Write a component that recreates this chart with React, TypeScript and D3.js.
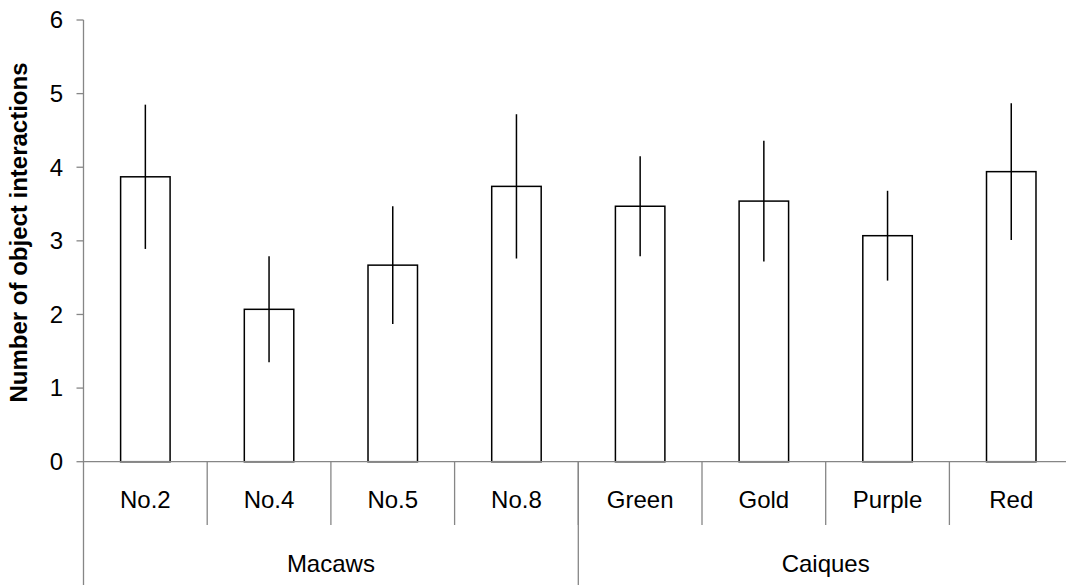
import React, { useEffect, useRef } from "react";
import * as d3 from "d3";

const categories = ["No.2", "No.4", "No.5", "No.8", "Green", "Gold", "Purple", "Red"];
const groups = ["Macaws", "Caiques"];
const groupSizes = [4, 4];
const meanValues = [3.87, 2.07, 2.67, 3.74, 3.47, 3.54, 3.07, 3.94];
const errorValues = [0.98, 0.72, 0.8, 0.98, 0.68, 0.82, 0.61, 0.93];
const yTicks = [0, 1, 2, 3, 4, 5, 6];
const yTitle = "Number of object interactions";

const W = 1066;
const H = 585;
const AXIS = "#868686";
const FONT = "'Liberation Sans', Arial, sans-serif";
const FS = 24;

export default function App() {
  const ref = useRef<SVGSVGElement>(null);
  useEffect(() => {
    const svg = d3.select(ref.current);
    svg.selectAll("*").remove();
    const x0 = 83.5;
    const x1 = 1073.1;
    const yScale = d3.scaleLinear().domain([0, 6]).range([461.7, 20]);
    const xScale = d3.scaleBand<string>().domain(categories).range([x0, x1]).paddingInner(0.6).paddingOuter(0.3);
    const slot = d3.scaleBand<string>().domain(categories).range([x0, x1]).padding(0);
    const y0 = yScale(0);

    // bars
    svg.append("g").selectAll("rect").data(categories).join("rect")
      .attr("x", (d) => xScale(d)!)
      .attr("y", (d, i) => yScale(meanValues[i]))
      .attr("width", xScale.bandwidth())
      .attr("height", (d, i) => y0 - yScale(meanValues[i]))
      .attr("fill", "#fff").attr("stroke", "#000").attr("stroke-width", 1.5);

    // error bars
    svg.append("g").selectAll("line").data(categories).join("line")
      .attr("x1", (d) => xScale(d)! + xScale.bandwidth() / 2)
      .attr("x2", (d) => xScale(d)! + xScale.bandwidth() / 2)
      .attr("y1", (d, i) => yScale(meanValues[i] + errorValues[i]))
      .attr("y2", (d, i) => yScale(meanValues[i] - errorValues[i]))
      .attr("stroke", "#000").attr("stroke-width", 1.5);

    // y axis
    const ga = svg.append("g");
    ga.append("line").attr("x1", x0).attr("x2", x0).attr("y1", yScale(6)).attr("y2", H)
      .attr("stroke", AXIS).attr("stroke-width", 1.3);
    yTicks.forEach((t) => {
      ga.append("line").attr("x1", x0 - 7).attr("x2", x0).attr("y1", yScale(t)).attr("y2", yScale(t))
        .attr("stroke", AXIS).attr("stroke-width", 1.3);
      ga.append("text").attr("x", 63).attr("y", yScale(t)).attr("dy", "0.35em")
        .attr("text-anchor", "end").attr("font-family", FONT).attr("font-size", FS).attr("fill", "#000")
        .text(String(t));
    });

    // x axis
    ga.append("line").attr("x1", x0).attr("x2", x1).attr("y1", y0).attr("y2", y0)
      .attr("stroke", AXIS).attr("stroke-width", 1.3);
    categories.forEach((c, i) => {
      const sx = slot(c)!;
      if (i > 0) {
        ga.append("line").attr("x1", sx).attr("x2", sx).attr("y1", y0).attr("y2", 525)
          .attr("stroke", AXIS).attr("stroke-width", 1.3);
      }
      ga.append("text").attr("x", sx + slot.bandwidth() / 2).attr("y", 508)
        .attr("text-anchor", "middle").attr("font-family", FONT).attr("font-size", FS).attr("fill", "#000")
        .text(c);
    });
    let start = 0;
    groups.forEach((g, gi) => {
      const a = slot(categories[start])!;
      const end = start + groupSizes[gi] - 1;
      const b = slot(categories[end])! + slot.bandwidth();
      if (gi > 0) {
        ga.append("line").attr("x1", a).attr("x2", a).attr("y1", y0).attr("y2", H)
          .attr("stroke", AXIS).attr("stroke-width", 1.3);
      }
      ga.append("text").attr("x", (a + b) / 2).attr("y", 572)
        .attr("text-anchor", "middle").attr("font-family", FONT).attr("font-size", FS).attr("fill", "#000")
        .text(g);
      start = end + 1;
    });

    // y title
    svg.append("text").attr("transform", `translate(27,${(63 + 402) / 2}) rotate(-90)`)
      .attr("text-anchor", "middle").attr("font-family", FONT).attr("font-size", FS)
      .attr("font-weight", "bold").attr("fill", "#000").text(yTitle);
  }, []);
  return (
    <svg ref={ref} width={W} height={H} style={{ position: "absolute", left: 0, top: 0, background: "#fff" }} />
  );
}
